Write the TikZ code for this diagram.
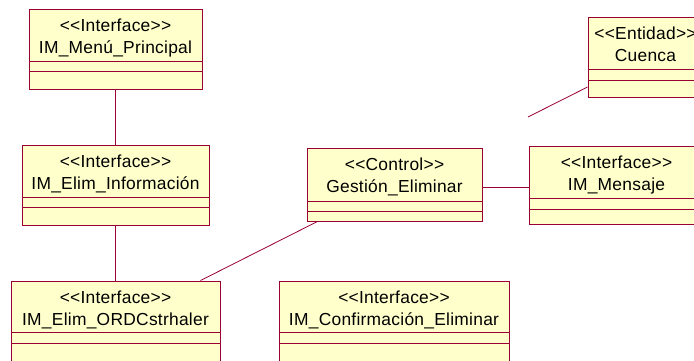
\documentclass[tikz,border=0pt]{standalone}
\usepackage{fontspec}
\setmainfont{Liberation Sans}[LetterSpace=1.5]
\usetikzlibrary{calc}
\definecolor{roseline}{RGB}{153,0,51}
\definecolor{rosefill}{RGB}{255,255,204}
\tikzset{
  umlbox/.style={draw=roseline, fill=rosefill, line width=0.9pt, inner sep=0pt, rectangle},
  umlsep/.style={draw=roseline, line width=0.9pt},
  assoc/.style={draw=roseline, line width=0.8pt},
  lbl/.style={font=\fontsize{17.4}{20}\selectfont, inner sep=0pt, text=black}
}
% #1 name, #2 x1, #3 y1, #4 x2, #5 y2, #6 sep1, #7 sep2, #8 stereotype, #9 title
\newcommand\umlclassbox[9]{%
  \node[umlbox, minimum width={(#4-#2)*1pt}, minimum height={(#5-#3)*1pt}] (#1) at ({(#2+#4)/2},{(#3+#5)/2}) {};
  \draw[umlsep] (#1.west |- 0,#6) -- (#1.east |- 0,#6);
  \draw[umlsep] (#1.west |- 0,#7) -- (#1.east |- 0,#7);
  \node[lbl, anchor=base] (#1-s) at ($(#1.north)+(0,22.5)$) {#8};
  \node[lbl, anchor=base] (#1-t) at ($(#1.north)+(0,45)$) {#9};
}
\begin{document}
\begin{tikzpicture}[x=1pt, y=-1pt]
\useasboundingbox (0,0) rectangle (694,361);
\clip (0,0) rectangle (694,361);
\umlclassbox{menu}{29}{9}{202}{89}{61}{71}{<{}<Interface>{}>}{IM\_Menú\_Principal}
\umlclassbox{info}{22}{145}{209}{225}{197}{207}{<{}<Interface>{}>}{IM\_Elim\_Información}
\umlclassbox{gest}{307}{148}{482}{221}{201}{211}{<{}<Control>{}>}{Gestión\_Eliminar}
\umlclassbox{mens}{529}{146}{704}{224}{198}{209}{<{}<Interface>{}>}{IM\_Mensaje}
\umlclassbox{cuenca}{588}{17}{703}{97}{69}{80}{<{}<Entidad>{}>}{Cuenca}
\umlclassbox{ordc}{11}{281}{220}{380}{332}{343}{<{}<Interface>{}>}{IM\_Elim\_ORDCstrhaler}
\umlclassbox{conf}{279}{281}{509}{380}{332}{343}{<{}<Interface>{}>}{IM\_Confirmación\_Eliminar}
\coordinate (cfree) at (528,117);
\draw[assoc] (menu.south) -- (info.north);
\draw[assoc] (info.south) -- (info.south |- ordc.north);
\draw[assoc] ($(gest.south)+(1.5,0)$) -- (gest.south -| conf.north) ;
\draw[assoc] (gest.east |- 0,187) -- (mens.west |- 0,187);
\draw[assoc] ($(gest.south west)+(11,0)$) -- ($(ordc.north east)+(-20,0)$);
\draw[assoc] (cuenca.west |- 0,87) -- (cfree);
\end{tikzpicture}
\end{document}
